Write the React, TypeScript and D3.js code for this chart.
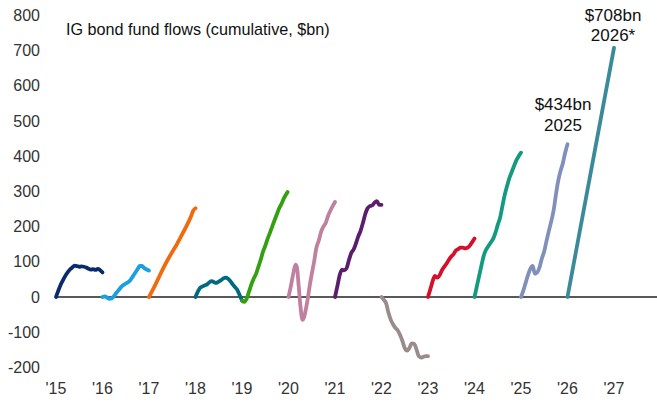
import React from "react";
import * as d3 from "d3";

const years = [2015, 2016, 2017, 2018, 2019, 2020, 2021, 2022, 2023, 2024, 2025, 2026];
const colors = ["#0b2a6e", "#1aa0e0", "#f06a10", "#006a80", "#33a010", "#c080a0", "#5b1e6e", "#9a8c8c", "#d4102c", "#139a80", "#8090bb", "#3a8a9a"];

// [fraction of year, cumulative $bn]
const flows2015: [number, number][] = [[0,0],[0.05,18],[0.1,35],[0.15,48],[0.2,60],[0.25,70],[0.3,78],[0.35,84],[0.4,89],[0.45,88],[0.5,86],[0.55,87],[0.6,86],[0.65,84],[0.7,80],[0.75,78],[0.8,79],[0.85,77],[0.9,80],[0.95,76],[1.0,70]];
const flows2016: [number, number][] = [[0,0],[0.05,2],[0.1,-2],[0.15,-5],[0.2,-4],[0.25,3],[0.3,12],[0.35,20],[0.4,28],[0.45,34],[0.5,38],[0.55,42],[0.6,48],[0.65,58],[0.7,68],[0.75,78],[0.8,88],[0.85,88],[0.9,82],[0.95,78],[1.0,75]];
const flows2017: [number, number][] = [[0,0],[0.1,25],[0.2,52],[0.3,80],[0.4,105],[0.5,128],[0.6,150],[0.7,175],[0.8,200],[0.9,228],[0.95,245],[1.0,252]];
const flows2018: [number, number][] = [[0,0],[0.05,15],[0.1,26],[0.15,30],[0.2,33],[0.25,36],[0.3,42],[0.35,45],[0.4,42],[0.45,40],[0.5,44],[0.55,48],[0.6,53],[0.65,55],[0.7,52],[0.75,45],[0.8,36],[0.85,28],[0.9,20],[0.95,5],[1.0,-10]];
const flows2019: [number, number][] = [[0,-10],[0.05,-14],[0.1,-5],[0.15,15],[0.2,35],[0.25,52],[0.3,65],[0.35,85],[0.4,105],[0.45,128],[0.5,145],[0.55,165],[0.6,182],[0.65,200],[0.7,218],[0.75,235],[0.8,252],[0.85,265],[0.9,280],[0.95,292],[0.98,298]];
const flows2020: [number, number][] = [[0,0],[0.05,30],[0.1,65],[0.15,92],[0.18,85],[0.22,30],[0.26,-30],[0.3,-65],[0.34,-55],[0.38,-30],[0.42,0],[0.46,35],[0.5,65],[0.55,100],[0.6,140],[0.65,160],[0.7,185],[0.75,200],[0.8,210],[0.85,230],[0.9,245],[0.95,258],[1.0,270]];
const flows2021: [number, number][] = [[0,0],[0.05,30],[0.1,62],[0.15,78],[0.2,76],[0.25,82],[0.3,105],[0.35,125],[0.4,135],[0.45,152],[0.5,172],[0.55,188],[0.6,210],[0.65,235],[0.7,252],[0.75,258],[0.8,260],[0.85,268],[0.9,272],[0.95,262],[1.0,262]];
const flows2022: [number, number][] = [[0,0],[0.05,-8],[0.1,-18],[0.15,-45],[0.2,-65],[0.25,-78],[0.3,-88],[0.35,-95],[0.4,-108],[0.45,-125],[0.5,-145],[0.55,-152],[0.6,-145],[0.65,-132],[0.7,-133],[0.75,-148],[0.8,-168],[0.85,-172],[0.9,-170],[0.95,-168],[1.0,-168]];
const flows2023: [number, number][] = [[0,0],[0.05,22],[0.1,45],[0.15,60],[0.2,55],[0.25,62],[0.3,76],[0.35,86],[0.4,95],[0.45,106],[0.5,115],[0.55,122],[0.6,132],[0.65,136],[0.7,140],[0.75,140],[0.8,138],[0.85,140],[0.9,146],[0.95,156],[1.0,166]];
const flows2024: [number, number][] = [[0,0],[0.05,30],[0.1,60],[0.15,90],[0.2,118],[0.25,135],[0.3,145],[0.35,155],[0.4,165],[0.45,182],[0.5,205],[0.55,225],[0.6,258],[0.65,290],[0.7,315],[0.75,338],[0.8,355],[0.85,372],[0.9,388],[0.95,400],[1.0,410]];
const flows2025: [number, number][] = [[0,0],[0.05,18],[0.1,40],[0.15,62],[0.2,80],[0.25,88],[0.3,66],[0.35,70],[0.4,85],[0.45,110],[0.5,130],[0.55,160],[0.6,188],[0.65,215],[0.7,245],[0.75,290],[0.8,330],[0.85,358],[0.9,380],[0.95,410],[1.0,434]];
const flows2026: [number, number][] = [[0,0],[1.0,708]];

const allFlows = [flows2015, flows2016, flows2017, flows2018, flows2019, flows2020, flows2021, flows2022, flows2023, flows2024, flows2025, flows2026];

const yTicks = [-200, -100, 0, 100, 200, 300, 400, 500, 600, 700, 800];
const xTickYears = [2015, 2016, 2017, 2018, 2019, 2020, 2021, 2022, 2023, 2024, 2025, 2026, 2027];
const xTickLabels = ["'15", "'16", "'17", "'18", "'19", "'20", "'21", "'22", "'23", "'24", "'25", "'26", "'27"];

const title = "IG bond fund flows (cumulative, $bn)";
const annotations = [
  { year: 2025, value: 434, lines: ["$434bn", "2025"] },
  { year: 2026, value: 708, lines: ["$708bn", "2026*"] },
];

const W = 657;
const H = 402;
const FONT = "'Liberation Sans', Arial, sans-serif";

export default function App() {
  const x = d3.scaleLinear().domain([2015, 2027]).range([56, 614]);
  const y = d3.scaleLinear().domain([0, 800]).range([297, 15.4]);
  const line = d3
    .line<[number, number]>()
    .x((d) => x(d[0]))
    .y((d) => y(d[1]))
    .curve(d3.curveMonotoneX);

  return (
    <svg width={W} height={H} style={{ position: "absolute", left: 0, top: 0, background: "#fff" }} fontFamily={FONT}>
      {yTicks.map((t) => (
        <text key={t} x={40} y={y(t)} dy="0.35em" textAnchor="end" fontSize={16} fill="#333">
          {t}
        </text>
      ))}
      {xTickYears.map((yr, i) => (
        <text key={yr} x={x(yr)} y={394} textAnchor="middle" fontSize={16} fill="#333">
          {xTickLabels[i]}
        </text>
      ))}
      <line x1={x(2015)} x2={W} y1={y(0)} y2={y(0)} stroke="#222" strokeWidth={1.5} />
      {allFlows.map((series, i) => (
        <path
          key={years[i]}
          d={line(series.map((p) => [years[i] + p[0], p[1]] as [number, number])) || ""}
          fill="none"
          stroke={colors[i]}
          strokeWidth={3.8}
          strokeLinecap="round"
          strokeLinejoin="round"
        />
      ))}
      <text x={66} y={35} fontSize={16.2} fill="#111">
        {title}
      </text>
      <text x={563} y={110} textAnchor="middle" fontSize={17} fill="#111">
        <tspan x={563}>{annotations[0].lines[0]}</tspan>
        <tspan x={563} dy={21}>{annotations[0].lines[1]}</tspan>
      </text>
      <text x={613} y={21} textAnchor="middle" fontSize={17} fill="#111">
        <tspan x={613}>{annotations[1].lines[0]}</tspan>
        <tspan x={613} dy={19.5}>{annotations[1].lines[1]}</tspan>
      </text>
    </svg>
  );
}
